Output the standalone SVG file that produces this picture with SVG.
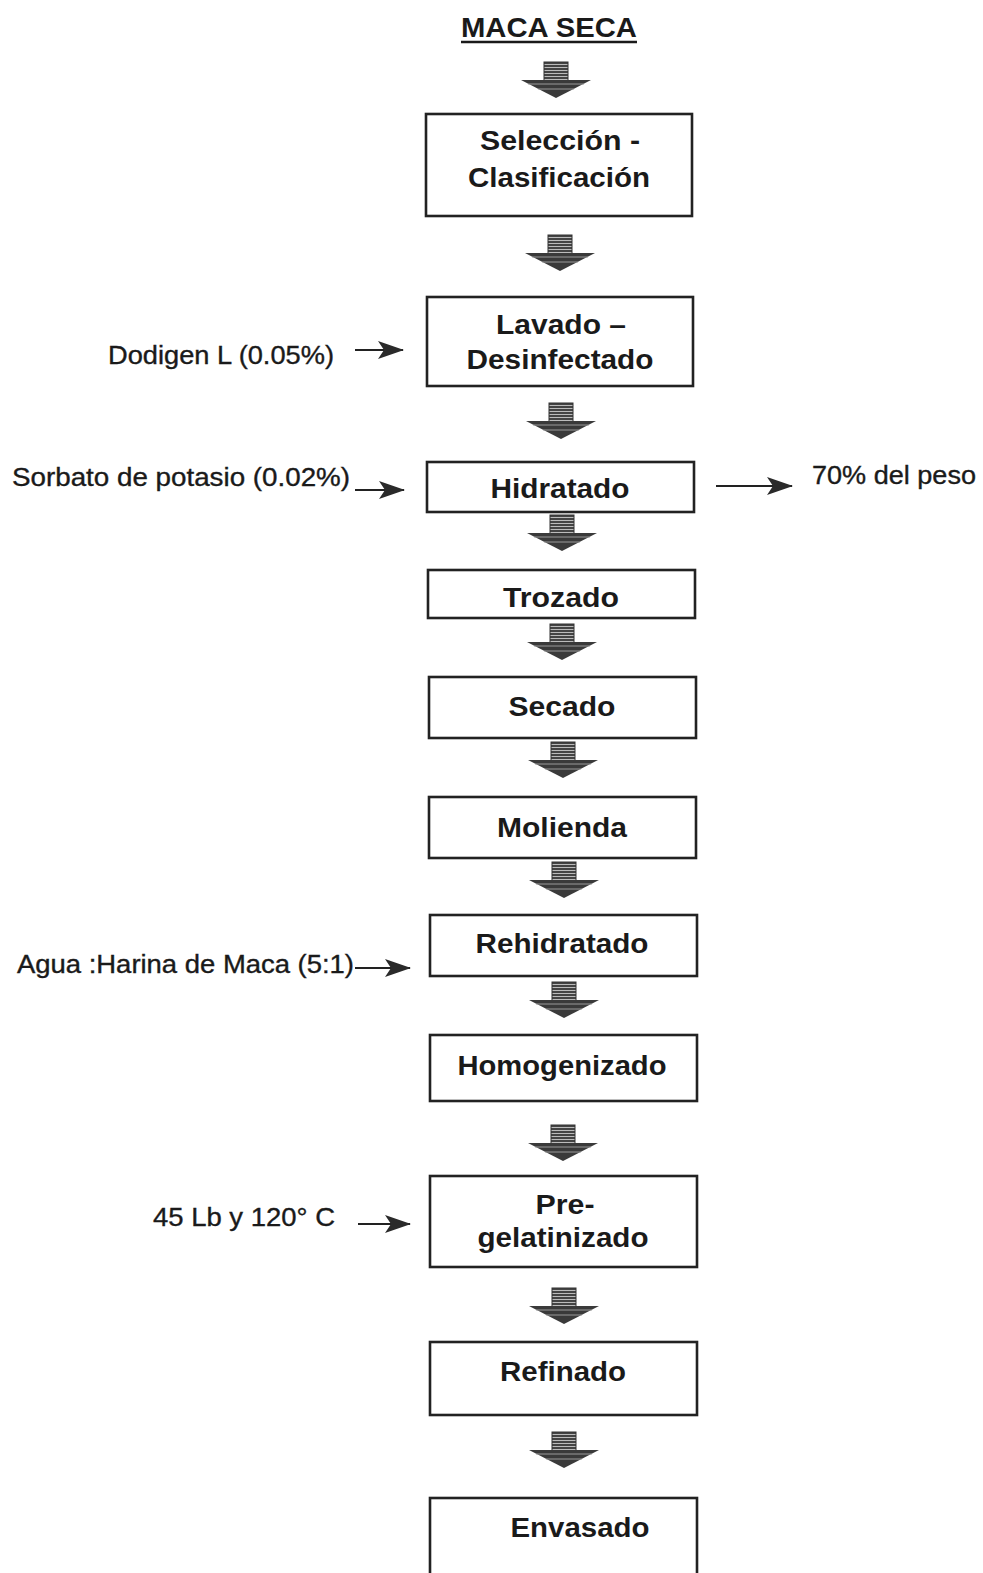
<svg xmlns="http://www.w3.org/2000/svg" width="983" height="1573" viewBox="0 0 983 1573">
<defs>
<pattern id="hatch" width="6" height="3" patternUnits="userSpaceOnUse">
<rect width="6" height="3" fill="#444"/>
<rect y="2" width="6" height="1" fill="#bbb"/>
</pattern>
<g id="bigArrow">
<rect x="-12" y="0" width="24" height="19" fill="url(#hatch)" stroke="#333" stroke-width="1"/>
<polygon points="-35,18 35,18 0,36" fill="#3a3a3a"/>
<line x1="-28" y1="22" x2="28" y2="22" stroke="#999" stroke-width="1"/>
<line x1="-18" y1="27" x2="18" y2="27" stroke="#999" stroke-width="1"/>
</g>
<marker id="ah" markerWidth="26" markerHeight="18" refX="25" refY="9" orient="auto" markerUnits="userSpaceOnUse">
<polygon points="0,0 26,9 0,18 6,9" fill="#2a2a2a"/>
</marker>
</defs>
<style>
.box{fill:#fff;stroke:#222;stroke-width:2.6}
.t{font-family:"Liberation Sans",Arial,sans-serif;font-weight:bold;font-size:27px;fill:#1a1a1a;text-anchor:middle}
.s{font-family:"Liberation Sans",Arial,sans-serif;font-size:25px;fill:#1a1a1a;stroke:#1a1a1a;stroke-width:0.35}
.c{stroke:#222;stroke-width:2.2;fill:none;marker-end:url(#ah)}
</style>
<rect width="983" height="1573" fill="#fff"/>

<g id="title">
<text x="549" y="37" class="t" style="font-size:28px" textLength="176" lengthAdjust="spacingAndGlyphs">MACA SECA</text>
<line x1="461" y1="42" x2="637" y2="42" stroke="#1a1a1a" stroke-width="2.5"/>
</g>

<g id="n1"><rect class="box" x="426" y="114" width="266" height="102"/>
<text class="t" x="560" y="150" textLength="160" lengthAdjust="spacingAndGlyphs">Selección -</text><text class="t" x="559" y="187" textLength="182" lengthAdjust="spacingAndGlyphs">Clasificación</text></g>
<g id="n2"><rect class="box" x="427" y="297" width="266" height="89"/>
<text class="t" x="561" y="334" textLength="130" lengthAdjust="spacingAndGlyphs">Lavado –</text><text class="t" x="560" y="369" textLength="187" lengthAdjust="spacingAndGlyphs">Desinfectado</text></g>
<g id="n3"><rect class="box" x="427" y="462" width="267" height="50"/>
<text class="t" x="560" y="498" textLength="139" lengthAdjust="spacingAndGlyphs">Hidratado</text></g>
<g id="n4"><rect class="box" x="428" y="570" width="267" height="48"/>
<text class="t" x="561" y="607" textLength="116" lengthAdjust="spacingAndGlyphs">Trozado</text></g>
<g id="n5"><rect class="box" x="429" y="677" width="267" height="61"/>
<text class="t" x="562" y="716" textLength="107" lengthAdjust="spacingAndGlyphs">Secado</text></g>
<g id="n6"><rect class="box" x="429" y="797" width="267" height="61"/>
<text class="t" x="562" y="837" textLength="130" lengthAdjust="spacingAndGlyphs">Molienda</text></g>
<g id="n7"><rect class="box" x="430" y="915" width="267" height="61"/>
<text class="t" x="562" y="953" textLength="173" lengthAdjust="spacingAndGlyphs">Rehidratado</text></g>
<g id="n8"><rect class="box" x="430" y="1035" width="267" height="66"/>
<text class="t" x="562" y="1075" textLength="209" lengthAdjust="spacingAndGlyphs">Homogenizado</text></g>
<g id="n9"><rect class="box" x="430" y="1176" width="267" height="91"/>
<text class="t" x="565" y="1214" textLength="59" lengthAdjust="spacingAndGlyphs">Pre-</text><text class="t" x="563" y="1247" textLength="171" lengthAdjust="spacingAndGlyphs">gelatinizado</text></g>
<g id="n10"><rect class="box" x="430" y="1342" width="267" height="73"/>
<text class="t" x="563" y="1381" textLength="126" lengthAdjust="spacingAndGlyphs">Refinado</text></g>
<g id="n11"><rect class="box" x="430" y="1498" width="267" height="80"/>
<text class="t" x="580" y="1537" textLength="139" lengthAdjust="spacingAndGlyphs">Envasado</text></g>

<g id="lbl-dodigen"><text class="s" x="108" y="364" textLength="226" lengthAdjust="spacingAndGlyphs">Dodigen L (0.05%)</text></g>
<g id="lbl-sorbato"><text class="s" x="12" y="486" textLength="338" lengthAdjust="spacingAndGlyphs">Sorbato de potasio (0.02%)</text></g>
<g id="lbl-peso"><text class="s" x="812" y="484" textLength="164" lengthAdjust="spacingAndGlyphs">70% del peso</text></g>
<g id="lbl-agua"><text class="s" x="17" y="973" textLength="337" lengthAdjust="spacingAndGlyphs">Agua :Harina de Maca (5:1)</text></g>
<g id="lbl-45"><text class="s" x="153" y="1226" textLength="182" lengthAdjust="spacingAndGlyphs">45 Lb y 120° C</text></g>

<g id="connectors">
<use href="#bigArrow" x="556" y="62"/>
<use href="#bigArrow" x="560" y="235"/>
<use href="#bigArrow" x="561" y="403"/>
<use href="#bigArrow" x="562" y="515"/>
<use href="#bigArrow" x="562" y="624"/>
<use href="#bigArrow" x="563" y="742"/>
<use href="#bigArrow" x="564" y="862"/>
<use href="#bigArrow" x="564" y="982"/>
<use href="#bigArrow" x="563" y="1125"/>
<use href="#bigArrow" x="564" y="1288"/>
<use href="#bigArrow" x="564" y="1432"/>
<line class="c" x1="355" y1="350" x2="403" y2="350"/>
<line class="c" x1="355" y1="490" x2="404" y2="490"/>
<line class="c" x1="716" y1="486" x2="792" y2="486"/>
<line class="c" x1="355" y1="968" x2="410" y2="968"/>
<line class="c" x1="358" y1="1224" x2="410" y2="1224"/>
</g>
</svg>
